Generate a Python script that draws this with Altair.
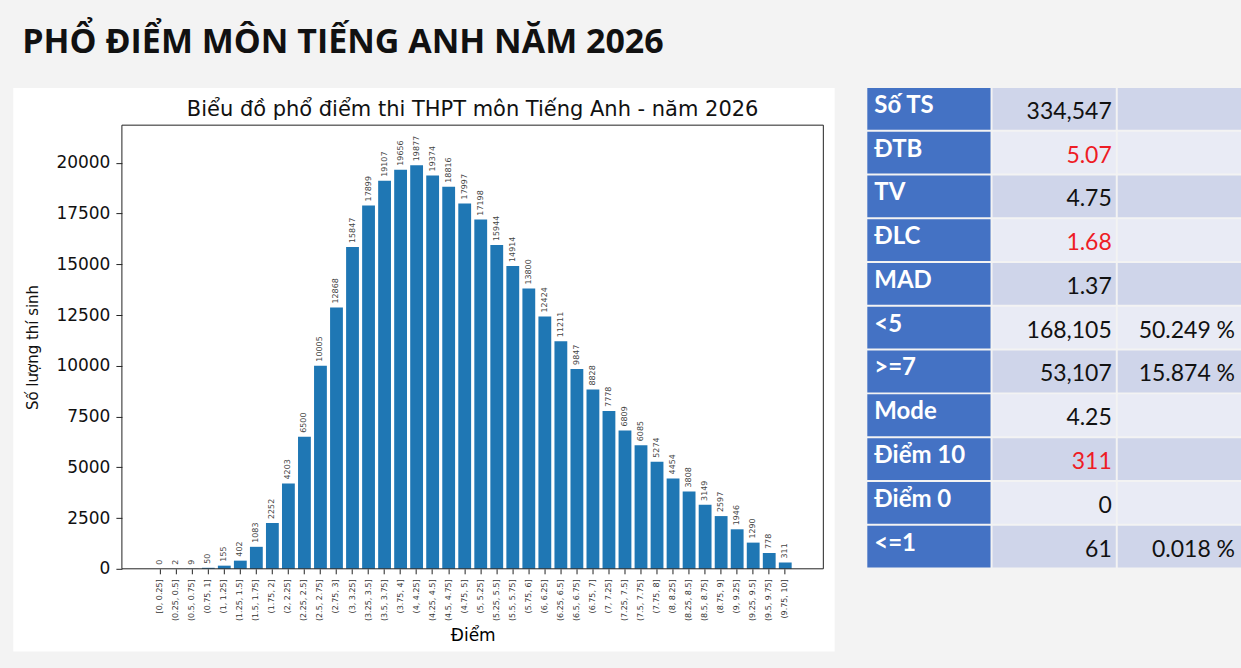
import altair as alt
import pandas as pd

# ---------------- data ----------------
chart_title = "PHỔ ĐIỂM MÔN TIẾNG ANH NĂM 2026"
plot_title = "Biểu đồ phổ điểm thi THPT môn Tiếng Anh - năm 2026"

bin_labels = [
    "[0, 0.25]", "(0.25, 0.5]", "(0.5, 0.75]", "(0.75, 1]", "(1, 1.25]", "(1.25, 1.5]",
    "(1.5, 1.75]", "(1.75, 2]", "(2, 2.25]", "(2.25, 2.5]", "(2.5, 2.75]", "(2.75, 3]",
    "(3, 3.25]", "(3.25, 3.5]", "(3.5, 3.75]", "(3.75, 4]", "(4, 4.25]", "(4.25, 4.5]",
    "(4.5, 4.75]", "(4.75, 5]", "(5, 5.25]", "(5.25, 5.5]", "(5.5, 5.75]", "(5.75, 6]",
    "(6, 6.25]", "(6.25, 6.5]", "(6.5, 6.75]", "(6.75, 7]", "(7, 7.25]", "(7.25, 7.5]",
    "(7.5, 7.75]", "(7.75, 8]", "(8, 8.25]", "(8.25, 8.5]", "(8.5, 8.75]", "(8.75, 9]",
    "(9, 9.25]", "(9.25, 9.5]", "(9.5, 9.75]", "(9.75, 10]",
]
bin_counts = [
    0, 2, 9, 50, 155, 402, 1083, 2252, 4203, 6500, 10005, 12868,
    15847, 17899, 19107, 19656, 19877, 19374, 18816, 17997, 17198, 15944, 14914, 13800,
    12424, 11211, 9847, 8828, 7778, 6809, 6085, 5274, 4454, 3808, 3149, 2597,
    1946, 1290, 778, 311,
]
y_ticks = [0, 2500, 5000, 7500, 10000, 12500, 15000, 17500, 20000]

row_labels = ["Số TS", "ĐTB", "TV", "ĐLC", "MAD", "<5", ">=7", "Mode", "Điểm 10", "Điểm 0", "<=1"]
row_values = ["334,547", "5.07", "4.75", "1.68", "1.37", "168,105", "53,107", "4.25", "311", "0", "61"]
row_pcts = ["", "", "", "", "", "50.249 %", "15.874 %", "", "", "", "0.018 %"]
row_red = [False, True, False, True, False, False, False, False, True, False, False]

# ---------------- bar chart ----------------
df = pd.DataFrame({"bin": bin_labels, "count": bin_counts})
one = pd.DataFrame({"t": [plot_title], "main": [chart_title]})
FONT = "DejaVu Sans"
W, H = 702, 444

panel = alt.Chart(one).mark_rect(color="white").encode(
    x=alt.value(-108.7), x2=alt.value(713.3), y=alt.value(-37.3), y2=alt.value(526.7)
)
frame = alt.Chart(one).mark_rect(filled=False, stroke="#222", strokeWidth=1).encode(
    x=alt.value(0), x2=alt.value(W), y=alt.value(0), y2=alt.value(H)
)
subtitle = alt.Chart(one).mark_text(
    font=FONT, fontSize=21, color="#111", align="center", baseline="alphabetic"
).encode(x=alt.value(W / 2), y=alt.value(-9.5), text="t:N")
main_title = alt.Chart(one).mark_text(
    font="Open Sans", fontSize=34, fontWeight="bold", color="#111",
    align="left", baseline="alphabetic"
).encode(x=alt.value(-99.7), y=alt.value(-72.5), text="main:N")

xscale = alt.Scale(domain=bin_labels, paddingInner=0.2, paddingOuter=0, range=[31.9, 670.3])
yscale = alt.Scale(domain=[0, 21850], nice=False)
xenc = alt.X(
    "bin:N", sort=bin_labels, scale=xscale,
    axis=alt.Axis(
        title="Điểm", labelAngle=270, labelFont=FONT, labelFontSize=8, labelColor="#333",
        labelOverlap=False, labelPadding=5, tickSize=5, tickColor="#222", domain=False,
        titleFont=FONT, titleFontSize=17, titleFontWeight="normal", titleColor="black",
        titlePadding=7, zindex=1,
    ),
)
yenc = alt.Y(
    "count:Q", scale=yscale,
    axis=alt.Axis(
        values=y_ticks, format="d", labelFont=FONT, labelFontSize=17, labelColor="#111",
        labelPadding=6, tickSize=6, tickColor="#222", domain=False, grid=False,
        title="Số lượng thí sinh", titleFont=FONT, titleFontSize=15,
        titleFontWeight="normal", titleColor="#111", titlePadding=15, zindex=1,
    ),
)

bars = alt.Chart(df).mark_bar(color="#1f77b4").encode(x=xenc, y=yenc)
labels = alt.Chart(df).mark_text(
    angle=270, align="left", baseline="middle", dx=4, font=FONT, fontSize=8, color="#444"
).encode(
    x=alt.X("bin:N", sort=bin_labels, scale=xscale),
    y=alt.Y("count:Q", scale=yscale),
    text="count:Q",
)

bar_chart = alt.layer(panel, bars, labels, frame, subtitle, main_title).properties(
    width=W, height=H,
    view=alt.ViewBackground(stroke="transparent", strokeWidth=0),
)

# ---------------- table ----------------
cols = ["c1", "c2", "c3"]
cells = []
for i, lab in enumerate(row_labels):
    for c in cols:
        if c == "c1":
            fill = "h"
        else:
            fill = "d" if i % 2 == 0 else "l"
        cells.append({"row": lab, "col": c, "fill": fill})
cells_df = pd.DataFrame(cells)
rows_df = pd.DataFrame({"row": row_labels, "value": row_values, "pct": row_pcts,
                        "red": ["r" if r else "k" for r in row_red]})

TW = 374
xs = alt.Scale(domain=cols, paddingInner=0.016, paddingOuter=0, range=[0, TW])
ys = alt.Scale(domain=row_labels, paddingInner=0.045, paddingOuter=0, range=[-37.3, 442.7])

rects = alt.Chart(cells_df).mark_rect().encode(
    x=alt.X("col:N", scale=xs, axis=None),
    y=alt.Y("row:N", scale=ys, axis=None),
    color=alt.Color("fill:N", scale=alt.Scale(domain=["h", "d", "l"],
                    range=["#4472c4", "#cfd5ea", "#e9ebf5"]), legend=None),
)

TFONT = "Lato"
head_txt = alt.Chart(rows_df).transform_calculate(col="'c1'").mark_text(
    align="left", baseline="alphabetic", dx=7, dy=4, font=TFONT, fontSize=24,
    fontWeight="bold", color="white"
).encode(
    x=alt.X("col:N", scale=xs, axis=None, bandPosition=0),
    y=alt.Y("row:N", scale=ys, axis=None),
    text="row:N",
)
val_txt = alt.Chart(rows_df).transform_calculate(col="'c2'").mark_text(
    align="right", baseline="alphabetic", dx=-4, dy=10, font=TFONT, fontSize=23
).encode(
    x=alt.X("col:N", scale=xs, axis=None, bandPosition=1),
    y=alt.Y("row:N", scale=ys, axis=None),
    text="value:N",
    color=alt.Color("red:N", scale=alt.Scale(domain=["k", "r"], range=["#111111", "#ee1c25"]),
                    legend=None),
)
pct_txt = alt.Chart(rows_df).transform_calculate(col="'c3'").mark_text(
    align="right", baseline="alphabetic", dx=-6, dy=10, font=TFONT, fontSize=23, color="#111"
).encode(
    x=alt.X("col:N", scale=xs, axis=None, bandPosition=1),
    y=alt.Y("row:N", scale=ys, axis=None),
    text="pct:N",
)

table = alt.layer(rects, head_txt, val_txt, pct_txt).resolve_scale(color="independent").properties(
    width=TW, height=H,
    view=alt.ViewBackground(stroke="transparent", strokeWidth=0),
)

chart = alt.hconcat(bar_chart, table, spacing=32).properties(
    padding={"left": 13, "top": 25, "right": 0, "bottom": 17},
    background="#f3f3f3",
)

chart.save("out.html", embed_options={"renderer": "svg", "actions": False})
